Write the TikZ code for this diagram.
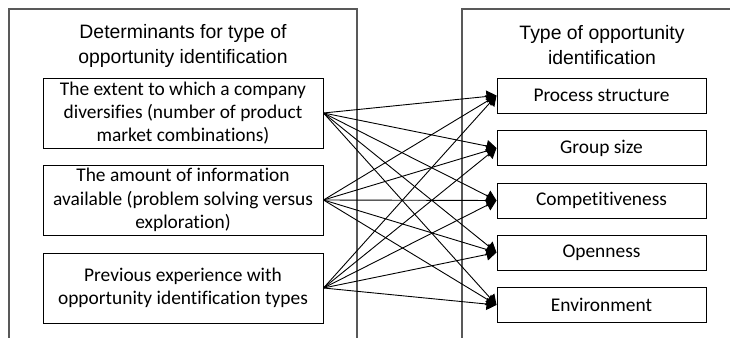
\documentclass[tikz,border=0pt]{standalone}
\usepackage{fontspec}
\setmainfont{Carlito}[Ligatures=NoCommon]
\newfontfamily\titlefont{Liberation Sans}
\usetikzlibrary{arrows.meta}

\begin{document}
\begin{tikzpicture}[x=0.5pt,y=-0.5pt,
  frame/.style={draw=black!65,line width=0.6pt},
  heading/.style={align=center,font=\titlefont\fontsize{9.7}{12.2}\selectfont},
  factor/.style={draw,line width=0.5pt,minimum width=140pt,minimum height=35pt,
    align=center,inner sep=0pt,font=\fontsize{9.7}{11.6}\selectfont},
  kind/.style={draw,line width=0.5pt,minimum width=104.5pt,minimum height=17.5pt,
    inner sep=0pt,font=\fontsize{9.7}{11.6}\selectfont},
  link/.style={line width=0.45pt,-{Triangle[length=5pt,width=6pt]}}]
\useasboundingbox (0,0) rectangle (730,338);

\draw[frame] (9,338)--(9,9)--(357,9)--(357,338);
\draw[frame] (462,338)--(462,9)--(730,9);

\node[heading] (lefthead) at (183,46) {Determinants for type of\\opportunity identification};
\node[heading] (righthead) at (602,45) {Type of opportunity\\identification};

 \node[factor] (ext) at (183,113) {The extent to which a company\\diversifies (number of product\\market combinations)};
 \node[factor] (info) at (183,200) {The amount of information\\available (problem solving versus\\exploration)};
 \node[factor] (exp) at (183,288) {Previous experience with\\opportunity identification types};

 \node[kind] (proc) at (601.5,95.5) {Process structure};
 \node[kind] (group) at (601.5,148) {Group size};
 \node[kind] (comp) at (601.5,200.5) {Competitiveness};
 \node[kind] (open) at (601.5,252.5) {Openness};
 \node[kind] (env) at (601.5,305) {Environment};

\foreach \s in {ext,info,exp}
  \foreach \t in {proc,group,comp,open,env}
    \draw[link] (\s.east) -- (\t.west);

\end{tikzpicture}
\end{document}
